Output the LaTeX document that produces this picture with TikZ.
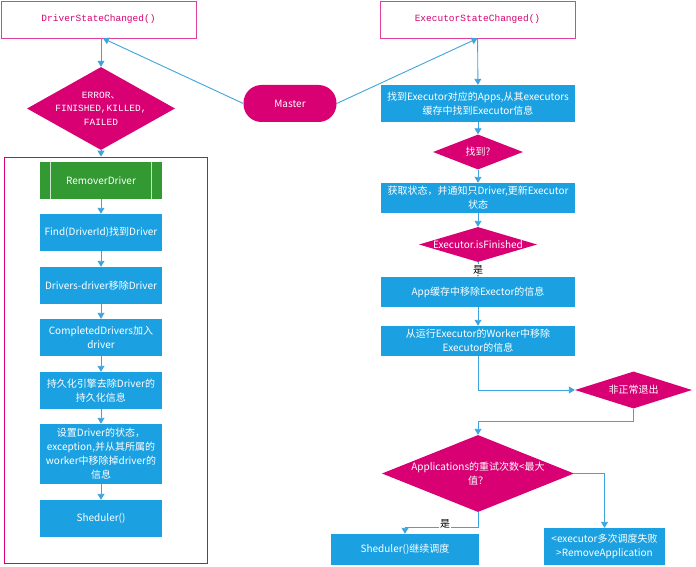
\documentclass[tikz,border=0pt]{standalone}
\usepackage{fontspec}
\setmainfont{Noto Sans CJK SC}
\setmonofont{Liberation Mono}
\usetikzlibrary{shapes.geometric,arrows.meta}
\definecolor{metroblue}{HTML}{1BA1E2}
\definecolor{metromagenta}{HTML}{D80073}
\definecolor{metrogreen}{HTML}{339933}
\definecolor{flowline}{HTML}{3FA4DD}
\definecolor{pinkline}{HTML}{E0409A}
\tikzset{
	func/.style={draw=pinkline, line width=0.8, fill=white, minimum width=195, minimum height=37, text=metromagenta, font=\ttfamily\fontsize{9.5}{11}\selectfont},
	proc/.style={fill=metroblue, text=white, minimum width=122, minimum height=37, inner sep=1, align=center, font=\fontsize{10}{14}\selectfont},
	wideproc/.style={proc, minimum width=194, minimum height=30},
	cond/.style={diamond, fill=metromagenta, inner sep=0},
	condtext/.style={text=white, align=center, font=\fontsize{10}{14}\selectfont},
	flow/.style={draw=flowline, line width=0.9, -{Triangle[length=6,width=7]}},
	yeslabel/.style={fill=white, inner sep=1, font=\fontsize{10}{11}\selectfont}
}
\begin{document}
\begin{tikzpicture}[x=1pt,y=-1pt]
		\useasboundingbox (0,0) rectangle (696,567);
		\node[draw=metromagenta, line width=0.8, minimum width=203, minimum height=406] (panel) at (105.5,360) {};
		\node[func] (dsc) at (98.5,19.5) {DriverStateChanged()};
		\node[func] (esc) at (477.5,19.5) {ExecutorStateChanged()};
		\node[fill=metromagenta, text=white, rounded corners=18, minimum width=93, minimum height=37, font=\fontsize{10}{11}\selectfont] (master) at (290,103.5) {Master};
		\node[cond, minimum width=148, minimum height=83, label={[condtext, font=\ttfamily\fontsize{9.5}{13.5}\selectfont]center:ERROR{\rmfamily 、}\\FINISHED,KILLED,\\FAILED}] (err) at (101,108.5) {};
		% Driver
		\node[proc, fill=metrogreen] (rm) at (101,180.5) {RemoverDriver};
		\draw[white!75!metrogreen, line width=0.8] ([xshift=11]rm.north west) -- ([xshift=11]rm.south west);
		\draw[white!75!metrogreen, line width=0.8] ([xshift=-11]rm.north east) -- ([xshift=-11]rm.south east);
		\node[proc] (find) at (101,232.5) {Find(DriverId)找到Driver};
		\node[proc] (drv) at (101,285.5) {Drivers-driver移除Driver};
		\node[proc] (comp) at (101,337.5) {CompletedDrivers加入\\driver};
		\node[proc] (pers) at (101,390.5) {持久化引擎去除Driver的\\持久化信息};
		\node[proc, minimum height=60] (set) at (101,454) {设置Driver的状态，\\exception,并从其所属的\\worker中移除掉driver的\\信息};
		\node[proc] (shed) at (101,518.5) {Sheduler()};
		% Executor
		\node[wideproc, minimum height=37] (apps) at (478,103.5) {找到Executor对应的Apps,从其executors\\缓存中找到Executor信息};
		\node[cond, minimum width=90, minimum height=35, label={[condtext]center:找到?}] (found) at (478,152) {};
		\node[wideproc] (state) at (478,198) {获取状态，并通知只Driver,更新Executor\\状态};
		\node[cond, minimum width=118, minimum height=35, label={[condtext]center:Executor.isFinished}] (fin) at (478,244.5) {};
		\node[wideproc] (appc) at (478,292) {App缓存中移除Exector的信息};
		\node[wideproc] (worker) at (478,341) {从运行Executor的Worker中移除\\Executor的信息};
		\node[cond, minimum width=117, minimum height=37, label={[condtext]center:非正常退出}] (abn) at (633.5,390) {};
		\node[cond, minimum width=192, minimum height=77, label={[condtext]center:Applications的重试次数<最大\\值？}] (retry) at (478,473.5) {};
		\node[proc, minimum width=148, minimum height=31] (sched) at (405,549.5) {Sheduler()继续调度};
		\node[proc, minimum width=121] (remove) at (604.5,546.5) {<executor多次调度失败\\>RemoveApplication};
		\draw[flow] (master.west) -- ([xshift=4.5]dsc.south);
		\draw[flow] (master.east) -- (esc.south);
		\draw[flow] (dsc.south -| err) -- (err.north);
		\draw[flow] (err.south) -- (err.south |- panel.north);
		\foreach \a/\b in {rm/find,find/drv,drv/comp,comp/pers,pers/set,set/shed}
			\draw[flow] (\a) -- (\b);
		\foreach \a/\b in {esc/apps,apps/found,found/state,state/fin}
			\draw[flow] (\a) -- (\b);
		\draw[flow] (fin) -- (appc) node[yeslabel, pos=0.5] (yes1) {是};
		\draw[flow] (appc) -- (worker);
		\draw[flow] (worker.south) |- (abn.west);
		\draw[flow] (abn.south) -- ++(0,13) -| (retry.north);
		\draw[flow] (retry.east) -| (remove.north);
		\draw[flow] (retry.south) -- ++(0,15) -| (sched.north);
		\node[yeslabel] (yes2) at (445,524) {是};
	\end{tikzpicture}
\end{document}
